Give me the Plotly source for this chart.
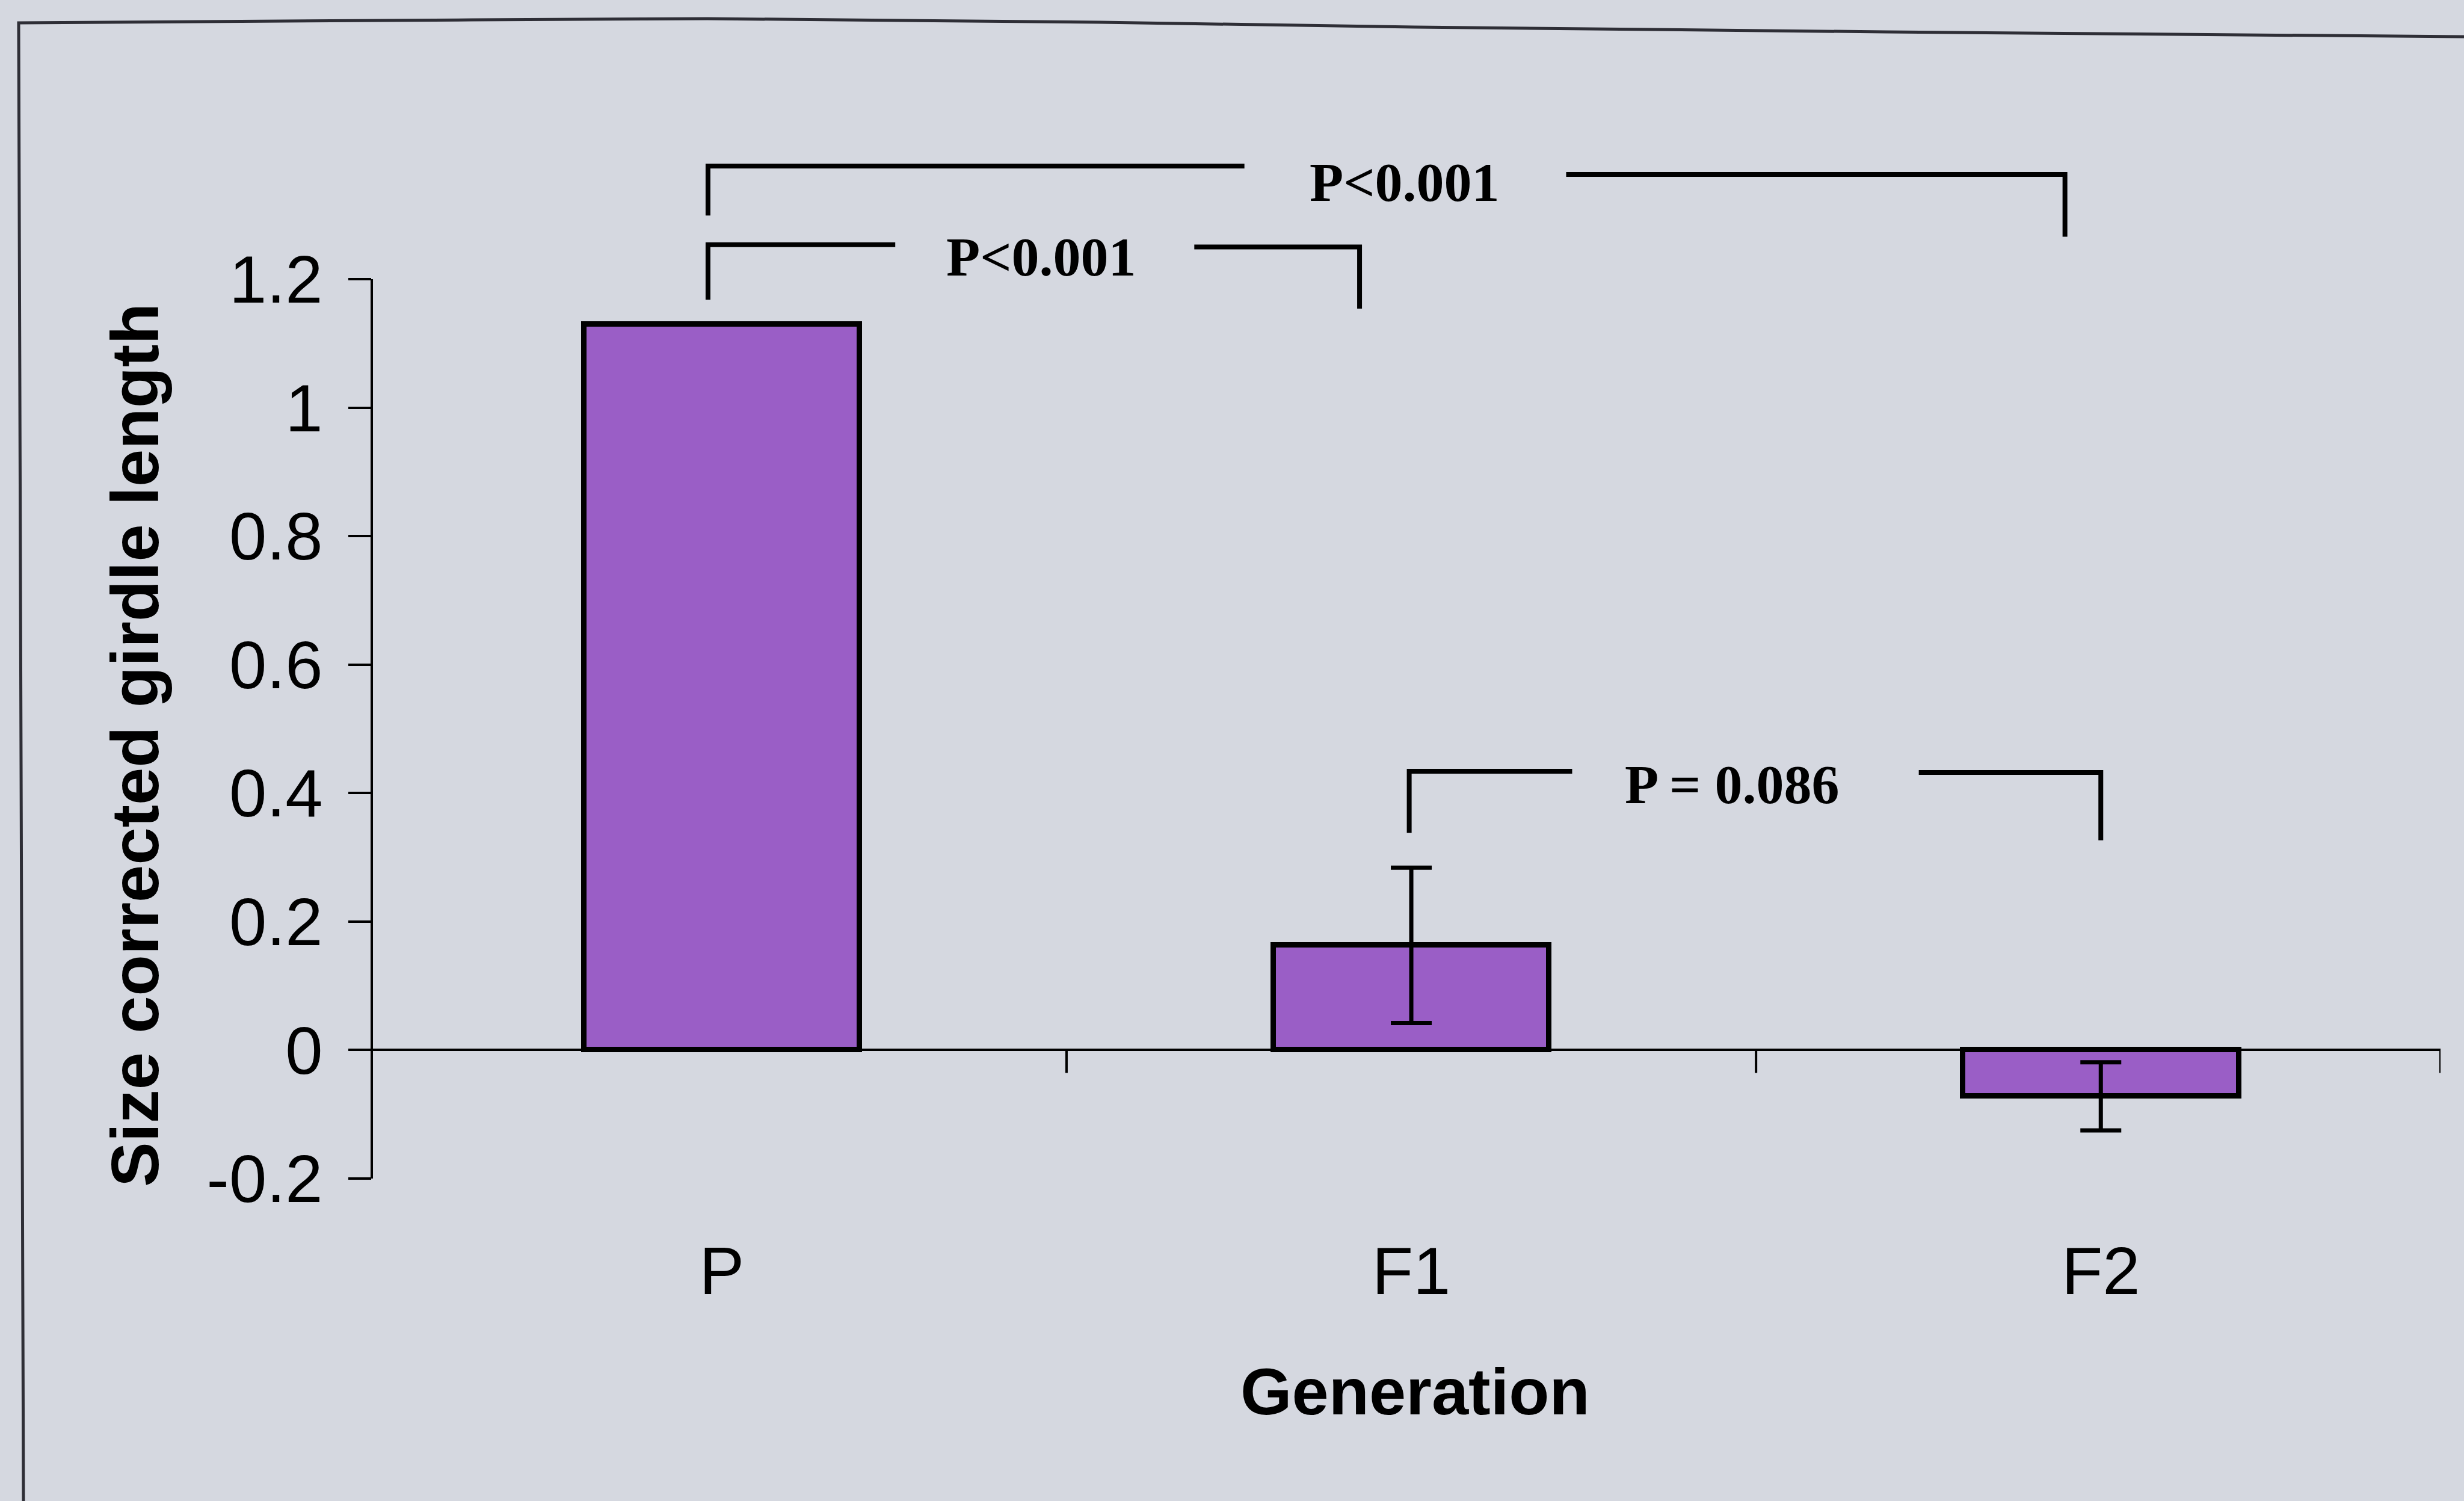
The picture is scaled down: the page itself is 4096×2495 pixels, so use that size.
import plotly.graph_objects as go

# ---- data ----
categories = ["P", "F1", "F2"]
means = [1.13, 0.163, -0.072]
sem = [0.0, 0.121, 0.053]
y_tick_values = [-0.2, 0, 0.2, 0.4, 0.6, 0.8, 1.0, 1.2]
y_tick_labels = ["-0.2", "0", "0.2", "0.4", "0.6", "0.8", "1", "1.2"]
p_labels = ["P<0.001", "P<0.001", "P = 0.086"]

# ---- page geometry ----
W, H = 4096, 2495
ML, MR, MT, MB = 618, 39, 197, 536
PW, PH = W - ML - MR, H - MT - MB
X_RANGE = [-0.5076, 2.4927]
Y_RANGE = [-0.2, 1.45]

BG = "#d5d8e0"
BAR = "#9a5ec6"
INK = "black"
SANS = "Liberation Sans, Arial, sans-serif"
SERIF = "Liberation Serif, Times New Roman, serif"


def paper_x(p):
    return (p - ML) / PW


def paper_y(p):
    return (H - MB - p) / PH


x_pos = list(range(len(categories)))

fig = go.Figure()
fig.add_trace(go.Bar(
    x=x_pos,
    y=means,
    width=0.40,
    marker=dict(color=BAR, line=dict(color=INK, width=9)),
    error_y=dict(type="data", array=sem, visible=True,
                 color=INK, thickness=7, width=34),
    showlegend=False,
))

shapes = []

# value axis line (only spans the labelled range)
shapes.append(dict(type="line", xref="paper", yref="y", x0=0, x1=0,
                   y0=y_tick_values[0], y1=y_tick_values[-1],
                   line=dict(color=INK, width=4)))

# category boundary ticks hanging below the zero line
tick_depth = 0.0356
for b in [0.5, 1.5, X_RANGE[1]]:
    shapes.append(dict(type="line", xref="x", yref="y", x0=b, x1=b,
                       y0=0, y1=-tick_depth, line=dict(color=INK, width=4)))

# significance brackets: legs, top rails with a gap for the label
brackets = [
    dict(x0=-0.02, x1=0.925, yl=1.2535, yr=1.25, fl=1.168, fr=1.154,
         g0=0.2516, g1=0.6853, lx=0.4638, ly=1.235),
    dict(x0=-0.02, x1=1.948, yl=1.376, yr=1.363, fl=1.299, fr=1.266,
         g0=0.758, g1=1.2246, lx=0.99, ly=1.351),
    dict(x0=0.997, x1=2.0, yl=0.434, yr=0.432, fl=0.338, fr=0.3265,
         g0=1.2333, g1=1.736, lx=1.4655, ly=0.413),
]
annotations = []
for br, lab in zip(brackets, p_labels):
    shapes.append(dict(type="path", xref="x", yref="y",
                       path=f"M {br['x0']},{br['fl']} L {br['x0']},{br['yl']} L {br['g0']},{br['yl']}",
                       line=dict(color=INK, width=8)))
    shapes.append(dict(type="path", xref="x", yref="y",
                       path=f"M {br['g1']},{br['yr']} L {br['x1']},{br['yr']} L {br['x1']},{br['fr']}",
                       line=dict(color=INK, width=8)))
    annotations.append(dict(x=br["lx"], y=br["ly"], xref="x", yref="y",
                            text=lab, showarrow=False,
                            xanchor="center", yanchor="middle",
                            font=dict(family=SERIF, size=92, color=INK,
                                      weight="bold")))

# outer frame (top edge and left edge of the chart box)
frame_top = [(31, 38), (784, 33), (1176, 31), (1829, 37), (2351, 45),
             (3135, 53), (4096, 61)]
path = f"M {paper_x(39)},{paper_y(H)} L {paper_x(31)},{paper_y(38)}"
for fx, fy in frame_top[1:]:
    path += f" L {paper_x(fx)},{paper_y(fy)}"
shapes.append(dict(type="path", xref="paper", yref="paper", path=path,
                   line=dict(color="#2e2e36", width=5)))

# axis titles
annotations.append(dict(text="Size corrected girdle length", textangle=-90,
                        xref="paper", yref="paper",
                        x=paper_x(224), y=paper_y(1239),
                        xanchor="center", yanchor="middle", showarrow=False,
                        font=dict(family=SANS, size=112, color=INK,
                                  weight="bold")))
annotations.append(dict(text="Generation", xref="paper", yref="paper",
                        x=paper_x(2352), y=paper_y(2312),
                        xanchor="center", yanchor="middle", showarrow=False,
                        font=dict(family=SANS, size=110, color=INK,
                                  weight="bold")))

fig.update_layout(
    width=W, height=H,
    margin=dict(l=ML, r=MR, t=MT, b=MB, pad=0),
    paper_bgcolor=BG, plot_bgcolor=BG,
    shapes=shapes, annotations=annotations,
    bargap=0,
    xaxis=dict(range=X_RANGE, tickmode="array", tickvals=x_pos,
               ticktext=categories, ticks="", showgrid=False,
               zeroline=False, showline=False,
               tickfont=dict(family=SANS, size=112, color=INK),
               ticklabelstandoff=79),
    yaxis=dict(range=Y_RANGE, tickmode="array", tickvals=y_tick_values,
               ticktext=y_tick_labels, ticks="outside", ticklen=38,
               tickwidth=4, tickcolor=INK, showgrid=False,
               zeroline=True, zerolinecolor=INK, zerolinewidth=4,
               showline=False,
               tickfont=dict(family=SANS, size=112, color=INK),
               ticklabelstandoff=20),
)

fig.write_html("out.html")
